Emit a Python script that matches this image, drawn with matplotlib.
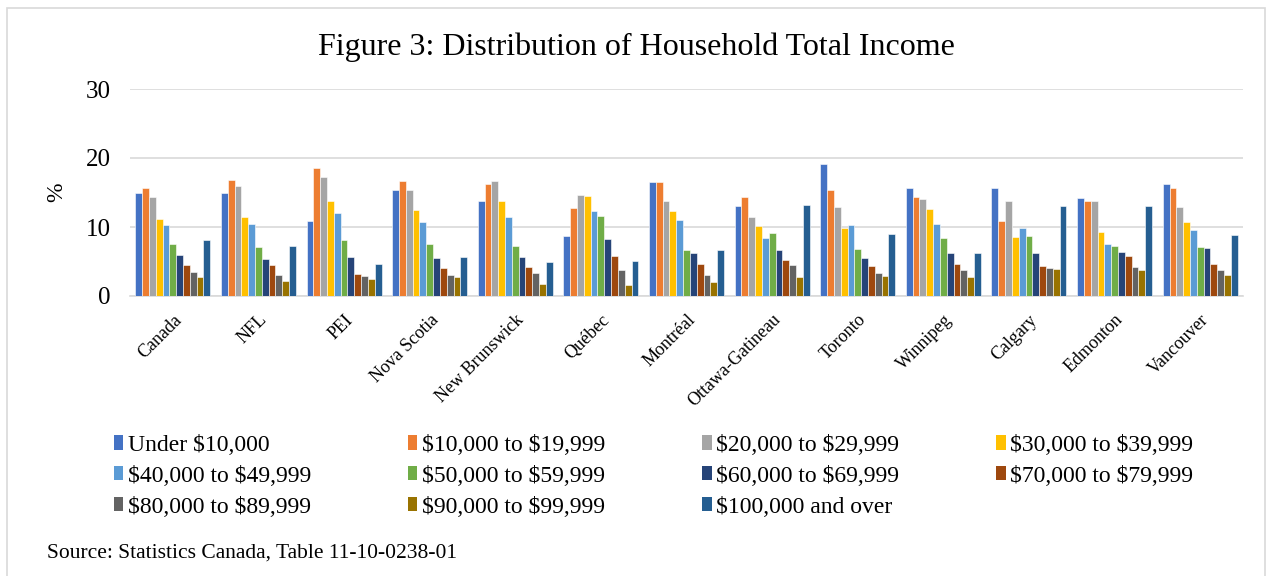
import matplotlib
matplotlib.use("Agg")
import matplotlib.pyplot as plt
import numpy as np
from matplotlib.patches import Rectangle, Patch

plt.rcParams['font.family'] = ['Liberation Serif', 'DejaVu Serif']
plt.rcParams['text.parse_math'] = False

regions = ["Canada", "NFL", "PEI", "Nova Scotia", "New Brunswick", "Québec",
           "Montréal", "Ottawa-Gatineau", "Toronto", "Winnipeg", "Calgary",
           "Edmonton", "Vancouver"]

brackets = ["Under $10,000", "$10,000 to $19,999", "$20,000 to $29,999",
            "$30,000 to $39,999", "$40,000 to $49,999", "$50,000 to $59,999",
            "$60,000 to $69,999", "$70,000 to $79,999", "$80,000 to $89,999",
            "$90,000 to $99,999", "$100,000 and over"]

# values per region (in bracket order)
canada      = [14.9, 15.7, 14.4, 11.2, 10.3, 7.6, 6.0, 4.5, 3.5, 2.7, 8.1]
nfl         = [15.0, 16.8, 15.9, 11.5, 10.5, 7.1, 5.3, 4.5, 3.0, 2.2, 7.2]
pei         = [10.9, 18.5, 17.2, 13.8, 12.0, 8.1, 5.7, 3.2, 2.85, 2.4, 4.6]
nova_scotia = [15.3, 16.6, 15.4, 12.5, 10.7, 7.6, 5.5, 4.0, 3.0, 2.7, 5.7]
new_brunsw  = [13.7, 16.2, 16.6, 13.8, 11.4, 7.3, 5.7, 4.2, 3.3, 1.7, 4.9]
quebec      = [8.7, 12.7, 14.6, 14.5, 12.3, 11.6, 8.3, 5.8, 3.7, 1.6, 5.1]
montreal    = [16.5, 16.5, 13.8, 12.3, 11.0, 6.6, 6.2, 4.6, 3.1, 2.1, 6.6]
ottawa_gat  = [13.0, 14.3, 11.5, 10.2, 8.4, 9.2, 6.6, 5.2, 4.5, 2.8, 13.2]
toronto     = [19.1, 15.3, 12.9, 9.9, 10.3, 6.8, 5.5, 4.3, 3.3, 2.9, 9.0]
winnipeg    = [15.7, 14.4, 14.0, 12.6, 10.4, 8.4, 6.3, 4.6, 3.7, 2.7, 6.2]
calgary     = [15.7, 10.9, 13.8, 8.6, 9.8, 8.7, 6.2, 4.3, 4.1, 3.9, 13.0]
edmonton    = [14.2, 13.8, 13.8, 9.3, 7.5, 7.2, 6.4, 5.8, 4.2, 3.7, 13.0]
vancouver   = [16.2, 15.7, 12.9, 10.7, 9.5, 7.1, 6.9, 4.7, 3.8, 3.0, 8.8]

data = np.array([canada, nfl, pei, nova_scotia, new_brunsw, quebec, montreal,
                 ottawa_gat, toronto, winnipeg, calgary, edmonton, vancouver])

colors = ["#4472C4", "#ED7D31", "#A5A5A5", "#FFC000", "#5B9BD5", "#70AD47",
          "#264478", "#9E480E", "#636363", "#997300", "#255E91"]

fig = plt.figure(figsize=(12.72, 5.76), dpi=100)
W, H = 1272, 576
ax = fig.add_axes([130 / W, 1 - 296 / H, (1243 - 130) / W, (296 - 89) / H])

n = len(brackets)
group_w = 0.876
bw = group_w / n
x = np.arange(len(regions))
for j in range(n):
    ax.bar(x - group_w / 2 + bw * (j + 0.5), data[:, j], width=bw,
           color=colors[j], edgecolor='white', linewidth=0.4, zorder=3)

ax.set_xlim(-0.5, len(regions) - 0.5)
ax.set_ylim(0, 30)
ax.set_yticks([0, 10, 20, 30])
ax.yaxis.grid(True, color='#D9D9D9', linewidth=1.2, zorder=0)
for s in ['top', 'right', 'left']:
    ax.spines[s].set_visible(False)
ax.spines['bottom'].set_color('#D9D9D9')
ax.spines['bottom'].set_linewidth(1.2)
ax.tick_params(axis='both', length=0)
ax.tick_params(axis='y', labelsize=18, pad=14)
ax.set_xticks(x)
ax.set_xticklabels(regions, rotation=45, ha='right', rotation_mode='anchor',
                   fontsize=13)
ax.tick_params(axis='x', pad=11)
ax.set_ylabel('%', fontsize=17, labelpad=13)

fig.text(636 / W, 1 - 47 / H, "Figure 3: Distribution of Household Total Income",
         ha='center', va='center', fontsize=23)

order = [0, 4, 8, 1, 5, 9, 2, 6, 10, 3, 7]
handles = [Patch(facecolor=colors[i], edgecolor='none') for i in order]
labels = [brackets[i] for i in order]
leg = fig.legend(handles, labels, ncol=4, loc='upper left',
                 bbox_to_anchor=(102 / W, 1 - 423 / H), frameon=False,
                 fontsize=17, handlelength=0.4, handleheight=0.55,
                 handletextpad=0.2, columnspacing=4.1, labelspacing=0.42,
                 borderpad=0.0)

fig.text(47 / W, 1 - 553 / H, "Source: Statistics Canada, Table 11-10-0238-01",
         ha='left', va='center', fontsize=15.5)

fig.patches.append(Rectangle((7 / W, -0.1), (1265 - 7) / W, 1.1 - 8 / H,
                             transform=fig.transFigure, fill=False,
                             edgecolor='#D9D9D9', linewidth=1.2))

fig.savefig("out.png", dpi=100)
